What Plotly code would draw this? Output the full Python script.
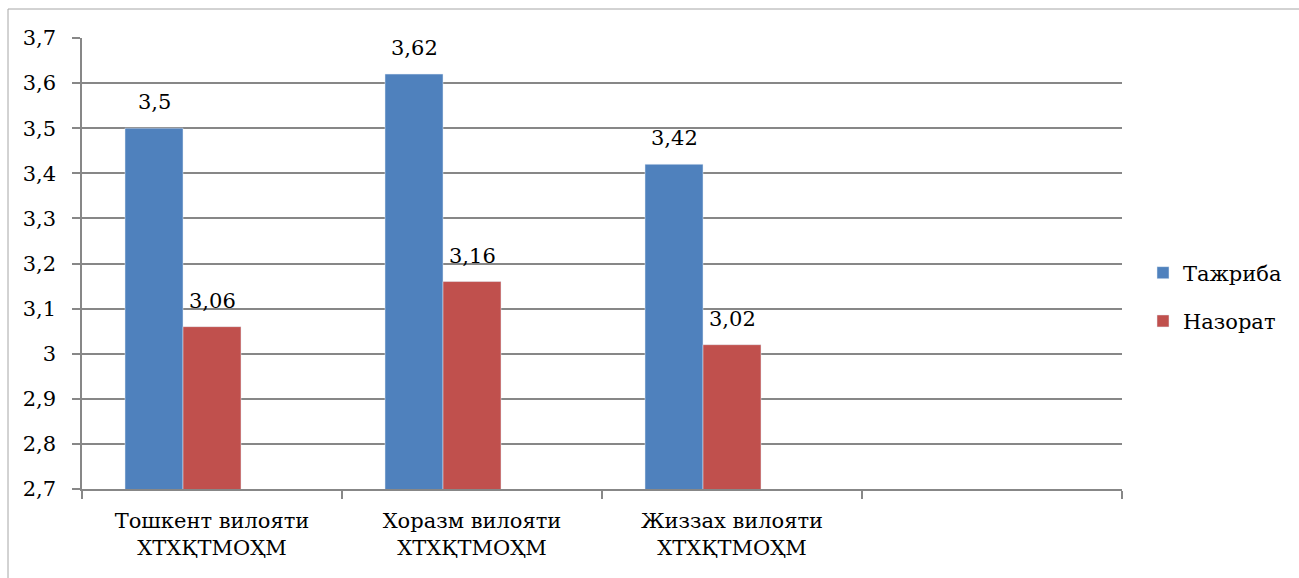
import plotly.graph_objects as go

categories = ["Тошкент вилояти<br>ХТХҚТМОҲМ", "Хоразм вилояти<br>ХТХҚТМОҲМ", "Жиззах вилояти<br>ХТХҚТМОҲМ", " "]
tajriba = [3.5, 3.62, 3.42, None]
nazorat = [3.06, 3.16, 3.02, None]
series3 = [None, None, None, None]
series_names = ["Тажриба", "Назорат"]
y_ticks = [2.7, 2.8, 2.9, 3.0, 3.1, 3.2, 3.3, 3.4, 3.5, 3.6, 3.7]

FONT = "DejaVu Serif"
FS = 21
BLUE = "#4F81BD"
RED = "#C0504D"
GRID = "#878787"

W, H = 1299, 578
ML, MT, MR, MB = 82, 38, 177, 89
PW = W - ML - MR
PH = H - MT - MB
BARGAP = 86 / 260

fig = go.Figure()
fig.add_trace(go.Bar(x=categories, y=tajriba, name=series_names[0], marker_color=BLUE,
                     legendgroup="a"))
fig.add_trace(go.Bar(x=categories, y=nazorat, name=series_names[1], marker_color=RED,
                     legendgroup="b"))
fig.add_trace(go.Bar(x=categories, y=series3, name="", showlegend=False, marker_color=BLUE))

bw = (1 - BARGAP) / 3
for vals, off in ((tajriba, -bw), (nazorat, 0.0)):
    for i, v in enumerate(vals):
        if v is None:
            continue
        fig.add_annotation(x=i + off, y=v, xref="x", yref="y",
                           text=f"{v:g}".replace(".", ","), showarrow=False,
                           yanchor="bottom", yshift=12,
                           font=dict(family=FONT, size=FS, color="black"))

# outer chart border
fig.add_shape(type="rect", xref="paper", yref="paper",
              x0=(8 - ML) / PW, x1=(W + 20 - ML) / PW,
              y0=-(H + 20 - MT - PH) / PH, y1=1 + (MT - 9) / PH,
              line=dict(color="#a6a6a6", width=1), fillcolor="rgba(0,0,0,0)", layer="below")

fig.update_layout(
    width=W, height=H,
    margin=dict(l=ML, r=MR, t=MT, b=MB, pad=0),
    paper_bgcolor="white", plot_bgcolor="white",
    barmode="group", bargap=BARGAP, bargroupgap=0,
    separators=", ",
    font=dict(family=FONT, size=FS, color="black"),
    showlegend=True,
    legend=dict(x=(1143 - ML) / PW, y=1 - (297 - MT) / PH, xanchor="left", yanchor="middle",
                traceorder="grouped", tracegroupgap=18,
                font=dict(family=FONT, size=FS, color="black"),
                bgcolor="rgba(0,0,0,0)"),
    xaxis=dict(type="category", showgrid=False, showline=True, linecolor=GRID, linewidth=1.5,
               ticks="outside", tickson="boundaries", ticklen=8, tickcolor=GRID, tickwidth=1.5,
               tickfont=dict(family=FONT, size=FS, color="black"), ticklabelstandoff=12,
               range=[-0.5, 3.5]),
    yaxis=dict(range=[2.7, 3.7], tickvals=y_ticks, showgrid=True, gridcolor=GRID, gridwidth=1.5,
               showline=True, linecolor=GRID, linewidth=1.5, zeroline=False,
               ticks="outside", ticklen=8, tickcolor=GRID, tickwidth=1.5,
               tickfont=dict(family=FONT, size=FS, color="black"), ticklabelstandoff=12),
)

fig.write_html("out.html")
